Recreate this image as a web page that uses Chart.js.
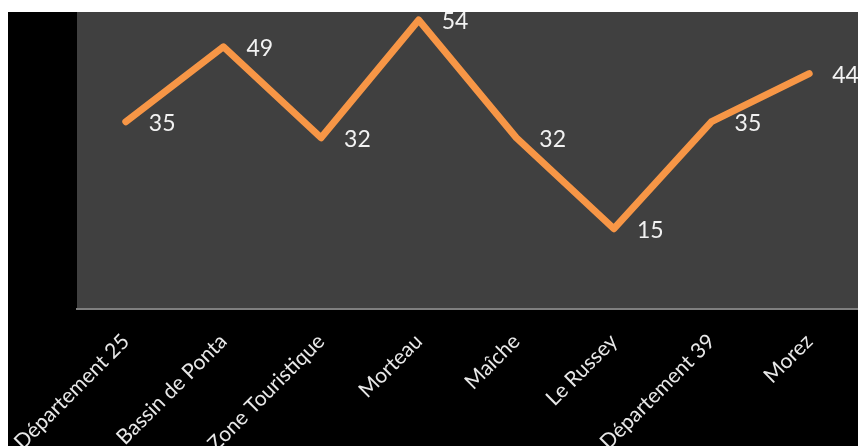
<!DOCTYPE html>
<html>
<head>
<meta charset="utf-8">
<script src="https://cdn.jsdelivr.net/npm/chart.js@4"></script>
<style>
  html, body { margin: 0; padding: 0; background: #fff; }
  #wrap { position: absolute; left: 8px; top: 12px; width: 850px; height: 434px; background: #000; }
</style>
</head>
<body>
<div id="wrap"><canvas id="lineChart" width="850" height="434"></canvas></div>
<script>
const categories = ['Département 25', 'Bassin de Ponta', 'Zone Touristique', 'Morteau', 'Maîche', 'Le Russey', 'Département 39', 'Morez'];
const values = [35, 49, 32, 54, 32, 15, 35, 44];

// value labels drawn to the right of each point (no datalabels plugin offline)
const valueLabels = {
    id: 'valueLabels',
    afterDatasetsDraw(chart) {
        const c = chart.ctx;
        const meta = chart.getDatasetMeta(0);
        c.save();
        c.font = '23px Lato, "Open Sans", sans-serif';
        c.fillStyle = '#f2f2f2';
        c.textAlign = 'left';
        c.textBaseline = 'middle';
        meta.data.forEach((pt, i) => {
            c.fillText(String(values[i]), pt.x + 23, pt.y + 2);
        });
        c.restore();
    }
};

// grey plot background
const plotBg = {
    id: 'plotBg',
    beforeDraw(chart) {
        const a = chart.chartArea;
        chart.ctx.save();
        chart.ctx.fillStyle = '#404040';
        chart.ctx.fillRect(a.left, a.top, a.right - a.left, a.bottom - a.top);
        chart.ctx.restore();
    }
};

document.addEventListener('DOMContentLoaded', () => {
    const ctx = document.getElementById('lineChart');
    new Chart(ctx, {
        type: 'line',
        data: {
            labels: categories,
            datasets: [{
                data: values,
                borderColor: '#F79646',
                borderWidth: 7,
                borderCapStyle: 'round',
                borderJoinStyle: 'round',
                pointRadius: 0,
                tension: 0,
                fill: false
            }]
        },
        options: {
            responsive: false,
            animation: false,
            layout: { padding: { left: 69, top: 0, right: 0, bottom: 0 } },
            plugins: {
                legend: { display: false },
                tooltip: { enabled: false }
            },
            scales: {
                x: {
                    offset: true,
                    grid: { display: false, drawTicks: false },
                    border: { display: true, color: '#7f7f7f', width: 2 },
                    ticks: {
                        color: '#e8e8e8',
                        font: { family: 'Lato, "Open Sans", sans-serif', size: 21 },
                        minRotation: 45,
                        maxRotation: 45,
                        padding: 20,
                        autoSkip: false
                    },
                    afterFit(scale) {
                        scale.height = 137;
                        // labels are allowed to run off the left edge, as in the original
                        scale.paddingLeft = 0;
                        scale.paddingRight = 0;
                    }
                },
                y: {
                    display: false,
                    min: 0,
                    max: 55.5
                }
            }
        },
        plugins: [plotBg, valueLabels]
    });
});
</script>
</body>
</html>
